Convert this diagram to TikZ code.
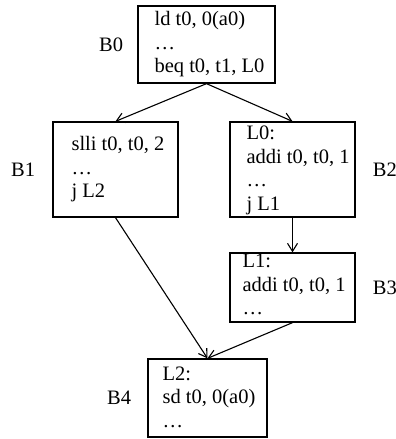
\documentclass[tikz,border=0pt]{standalone}
\usepackage{fontspec}
\setmainfont{Liberation Serif}
\usetikzlibrary{arrows.meta,positioning}

\tikzset{
  txt/.style={font=\fontsize{20.5}{23.5}\selectfont, inner sep=0pt},
  blk/.style={draw, line width=1.3pt, inner sep=0pt},
  code/.style={txt, align=left, anchor=west},
  tag/.style={txt},
  flow/.style={line width=1.1pt, -{Straight Barb[length=8pt,width=10pt,line width=1.1pt]}}
}

\begin{document}
\begin{tikzpicture}[x=1pt,y=1pt]
  \useasboundingbox (0,0) rectangle (396,-439);

  % basic blocks
  \node[blk, minimum width=137pt, minimum height=77pt] (b0) at (206.5,-44.5) {};
  \node[blk, minimum width=125pt, minimum height=95pt] (b1) at (115.5,-169.5) {};
  \node[blk, minimum width=125pt, minimum height=95pt] (b2) at (292.5,-169.5) {};
  \node[blk, minimum width=125pt, minimum height=69pt] (b3) at (292.5,-287.5) {};
  \node[blk, minimum width=119pt, minimum height=78pt] (b4) at (207.5,-398) {};

  % instructions inside each block
  \node[code] (c0) at ([xshift=17pt]b0.west) {ld t0, 0(a0)\\…\\beq t0, t1, L0};
  \node[code] (c1) at ([xshift=19pt]b1.west) {slli t0, t0, 2\\…\\j L2};
  \node[code] (c2) at ([xshift=17pt,yshift=-1pt]b2.west) {L0:\\addi t0, t0, 1\\…\\j L1};
  \node[code] (c3) at ([xshift=13pt,yshift=3pt]b3.west) {L1:\\addi t0, t0, 1\\…};
  \node[code] (c4) at ([xshift=15pt,yshift=1pt]b4.west) {L2:\\sd t0, 0(a0)\\…};

  % block names
  \node[tag, left=14pt of b0] (n0) {B0};
  \node[tag, left=17pt of b1] (n1) {B1};
  \node[tag, right=17pt of b2] (n2) {B2};
  \node[tag, right=17pt of b3] (n3) {B3};
  \node[tag, left=16pt of b4] (n4) {B4};

  % control flow edges
  \draw[flow] (b0.south) -- (b1.north);
  \draw[flow] (b0.south) -- (b2.north);
  \draw[flow] (b2.south) -- (b3.north);
  \draw[flow] (b1.south) -- (b4.north);
  \draw[flow] (b3.south) -- (b4.north);
\end{tikzpicture}
\end{document}
